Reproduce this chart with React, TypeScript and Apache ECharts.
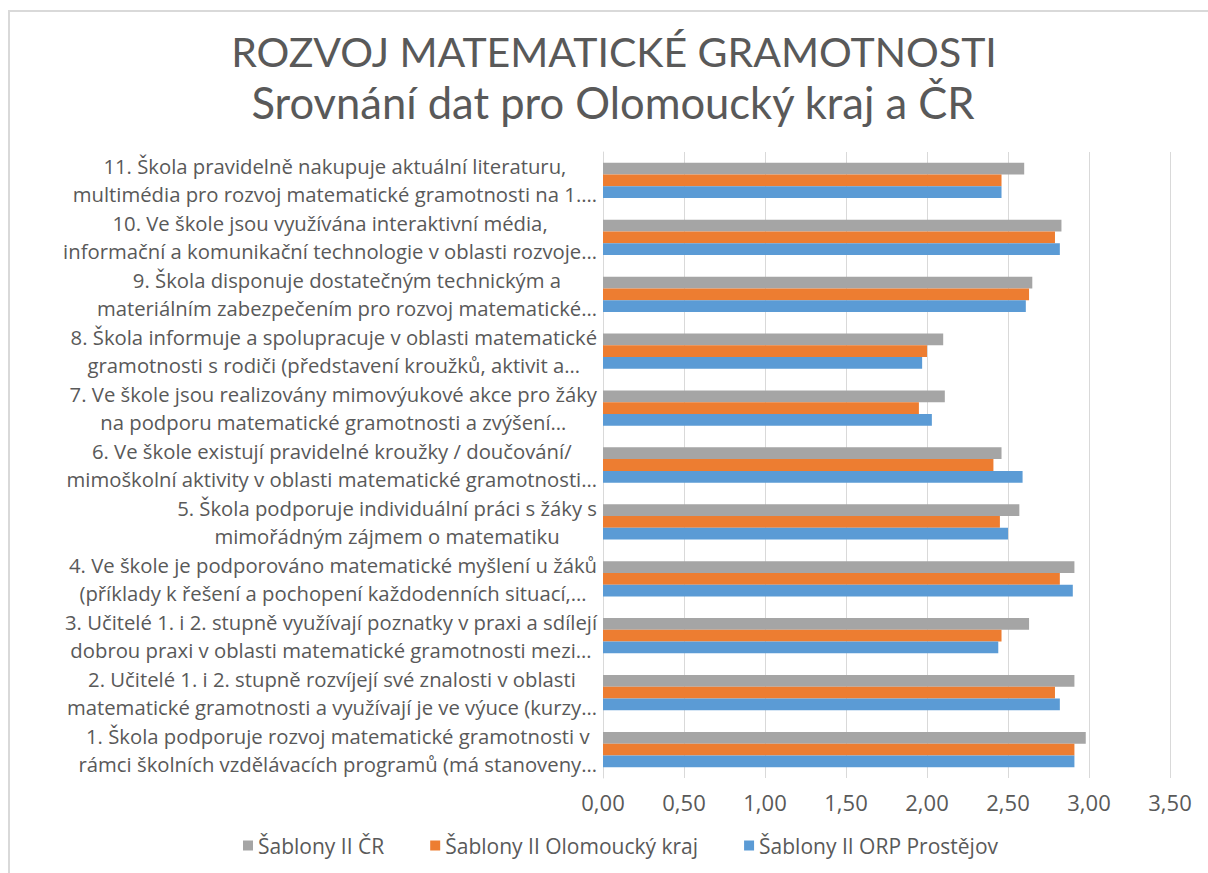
import React, { useEffect, useRef } from "react";
import * as echarts from "echarts";

const titleLines = [
  "ROZVOJ MATEMATICKÉ GRAMOTNOSTI",
  "Srovnání dat pro Olomoucký kraj a ČR",
];

const categories = [
  "1. Škola podporuje rozvoj matematické gramotnosti v\nrámci školních vzdělávacích programů (má stanoveny…",
  "2. Učitelé 1. i 2. stupně rozvíjejí své znalosti v oblasti\nmatematické gramotnosti a využívají je ve výuce (kurzy…",
  "3. Učitelé 1. i 2. stupně využívají poznatky v praxi a sdílejí\ndobrou praxi v oblasti matematické gramotnosti mezi…",
  "4. Ve škole je podporováno matematické myšlení u žáků\n(příklady k řešení a pochopení každodenních situací,…",
  "5. Škola podporuje individuální práci s žáky s\nmimořádným zájmem o matematiku",
  "6. Ve škole existují pravidelné kroužky / doučování/\nmimoškolní aktivity v oblasti matematické gramotnosti…",
  "7. Ve škole jsou realizovány mimovýukové akce pro žáky\nna podporu matematické gramotnosti a zvýšení…",
  "8. Škola informuje a spolupracuje v oblasti matematické\ngramotnosti s rodiči (představení kroužků, aktivit a…",
  "9. Škola disponuje dostatečným technickým a\nmateriálním zabezpečením pro rozvoj matematické…",
  "10. Ve škole jsou využívána interaktivní média,\ninformační a komunikační technologie v oblasti rozvoje…",
  "11. Škola pravidelně nakupuje aktuální literaturu,\nmultimédia pro rozvoj matematické gramotnosti na 1.…",
];

const seriesNames = [
  "Šablony II ČR",
  "Šablony II Olomoucký kraj",
  "Šablony II ORP Prostějov",
];

const valuesCR = [2.98, 2.91, 2.63, 2.91, 2.57, 2.46, 2.11, 2.1, 2.65, 2.83, 2.6];
const valuesOlomouc = [2.91, 2.79, 2.46, 2.82, 2.45, 2.41, 1.95, 2.0, 2.63, 2.79, 2.46];
const valuesProstejov = [2.91, 2.82, 2.44, 2.9, 2.5, 2.59, 2.03, 1.97, 2.61, 2.82, 2.46];

const colors = ["#A5A5A5", "#ED7D31", "#5B9BD5"];
const seriesValues = [valuesCR, valuesOlomouc, valuesProstejov];

const FONT = "'Open Sans', 'Noto Sans', sans-serif";
const TITLE_FONT = "Lato, 'Open Sans', sans-serif";
const TEXT = "#595959";

export default function App() {
  const ref = useRef<HTMLDivElement>(null);

  useEffect(() => {
    document.body.style.margin = "0";
    document.body.style.overflow = "hidden";
    if (!ref.current) return;
    const chart = echarts.init(ref.current, undefined, { renderer: "svg" });
    chart.setOption({
      animation: false,
      backgroundColor: "#ffffff",
      textStyle: { fontFamily: FONT },
      graphic: [
        {
          type: "rect",
          shape: { x: 9, y: 11, width: 1400, height: 1000 },
          style: { fill: "none", stroke: "#D9D9D9", lineWidth: 2 },
          silent: true,
        },
        {
          type: "text",
          x: 614,
          y: 51,
          style: {
            text: titleLines[0],
            font: `41px ${TITLE_FONT}`,
            fill: TEXT,
            textAlign: "center",
            textVerticalAlign: "middle",
          },
        },
        {
          type: "text",
          x: 613,
          y: 102,
          style: {
            text: titleLines[1],
            font: `43.5px ${TITLE_FONT}`,
            fill: TEXT,
            textAlign: "center",
            textVerticalAlign: "middle",
          },
        },
      ],
      grid: { left: 603, right: 38, top: 152, bottom: 95, containLabel: false },
      legend: {
        data: seriesNames,
        bottom: 12,
        left: 238,
        icon: "rect",
        itemWidth: 10,
        itemHeight: 10,
        itemGap: 46,
        textStyle: { fontSize: 21, color: TEXT, fontFamily: FONT },
      },
      xAxis: {
        type: "value",
        min: 0,
        max: 3.5,
        interval: 0.5,
        axisLine: { show: false },
        axisTick: { show: false },
        splitLine: { show: true, lineStyle: { color: "#D9D9D9", width: 1 } },
        axisLabel: {
          margin: 13,
          fontSize: 22,
          color: TEXT,
          fontFamily: FONT,
          formatter: (v: number) => v.toFixed(2).replace(".", ","),
        },
      },
      yAxis: {
        type: "category",
        data: categories,
        axisLine: { show: true, lineStyle: { color: "#D9D9D9", width: 1 } },
        axisTick: { show: false },
        axisLabel: {
          margin: 6,
          align: "right",
          formatter: (v: string) =>
            v
              .split("\n")
              .map((l) => `{c|${l}}`)
              .join("\n"),
          rich: {
            c: {
              align: "center",
              fontSize: 20.3,
              lineHeight: 28,
              color: TEXT,
              fontFamily: FONT,
            },
          },
        },
      },
      series: seriesNames.map((name, i) => ({
        name,
        type: "bar",
        data: seriesValues[i],
        itemStyle: { color: colors[i] },
        barGap: "0%",
        barCategoryGap: "38%",
      })),
    });
    return () => chart.dispose();
  }, []);

  return <div ref={ref} style={{ width: 1208, height: 873 }} />;
}
